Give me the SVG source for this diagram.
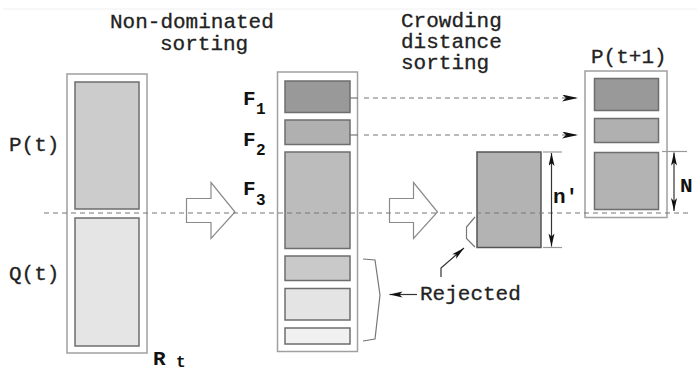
<svg xmlns="http://www.w3.org/2000/svg" width="697" height="372" viewBox="0 0 697 372">
  <defs>
    <marker id="dart" markerUnits="userSpaceOnUse" markerWidth="18" markerHeight="9" refX="16" refY="3.5" orient="auto-start-reverse">
      <path d="M0,0 L16,3.5 L0,7 L4,3.5 z" fill="#111"/>
    </marker>
    <marker id="dartS" markerUnits="userSpaceOnUse" markerWidth="14" markerHeight="8" refX="13" refY="3" orient="auto-start-reverse">
      <path d="M0,0 L13,3 L0,6 L3,3 z" fill="#111"/>
    </marker>
  </defs>
  <style>
    .txt { font-family: "Liberation Mono", "Courier New", monospace; font-size: 21px; fill: #222; stroke: #222; stroke-width: 0.3; }
    .bold { font-family: "Liberation Mono", "Courier New", monospace; font-weight: bold; font-size: 21px; fill: #111; }
    .sub { font-family: "Liberation Mono", "Courier New", monospace; font-weight: bold; font-size: 16px; fill: #111; }
    .outer { fill: #fff; stroke: #a0a0a0; stroke-width: 1.5; }
    .inner { stroke: #6e6e6e; stroke-width: 1.5; }
    .big { fill: #fff; stroke: #8a8a8a; stroke-width: 1.2; }
    .dash { fill: none; stroke: #777; stroke-width: 1.2; stroke-dasharray: 5 4; }
    .tick { fill: none; stroke: #999; stroke-width: 1.2; }
    .dim { fill: none; stroke: #333; stroke-width: 1.2; }
    .thin { fill: none; stroke: #777; stroke-width: 1.2; }
  </style>

  <rect width="697" height="372" fill="#fff"/>
  <line x1="3" y1="9" x2="697" y2="9" stroke="#f0f0f0" stroke-width="1"/>

  <!-- headings -->
  <g id="heading-nds">
    <text class="txt" x="110" y="28">Non-dominated</text>
    <text class="txt" x="160" y="50">sorting</text>
  </g>
  <g id="heading-cds">
    <text class="txt" x="401" y="27">Crowding</text>
    <text class="txt" x="401" y="48">distance</text>
    <text class="txt" x="401" y="69">sorting</text>
  </g>

  <!-- combined population R_t -->
  <g id="rt">
    <rect class="outer" x="67" y="74" width="80" height="279"/>
    <rect class="inner" x="75" y="82" width="64" height="127" fill="#cccccc"/>
    <rect class="inner" x="75" y="218" width="64" height="128" fill="#e5e5e5"/>
    <text class="txt" x="9" y="151">P(t)</text>
    <text class="txt" x="9" y="280">Q(t)</text>
    <text class="bold" x="153" y="365">R</text>
    <text class="sub" x="176" y="367" font-size="14">t</text>
  </g>

  <!-- sorted fronts -->
  <g id="fronts">
    <rect class="outer" x="277.5" y="72" width="80" height="279.5"/>
    <rect class="inner" x="285" y="81" width="65" height="31.5" fill="#999999"/>
    <rect class="inner" x="285" y="120" width="65" height="24.5" fill="#b0b0b0"/>
    <rect class="inner" x="285" y="152" width="65" height="96.5" fill="#bcbcbc"/>
    <rect class="inner" x="285" y="256" width="65" height="24.5" fill="#c9c9c9"/>
    <rect class="inner" x="285" y="288.5" width="65" height="31.5" fill="#e4e4e4"/>
    <rect class="inner" x="285" y="328" width="65" height="16" fill="#f1f1f1"/>
    <text class="bold" x="243" y="105">F</text>
    <text class="sub" x="256" y="114">1</text>
    <text class="bold" x="243" y="146">F</text>
    <text class="sub" x="256" y="155">2</text>
    <text class="bold" x="243" y="195">F</text>
    <text class="sub" x="256" y="205">3</text>
  </g>

  <!-- part of F3 chosen by crowding distance -->
  <g id="f3-part">
    <rect x="477" y="152" width="64" height="95.5" fill="#b3b3b3" stroke="#555" stroke-width="1.5"/>
    <text class="bold" x="553" y="203">n′</text>
  </g>

  <!-- next population -->
  <g id="pt1">
    <rect class="outer" x="585" y="71" width="82" height="146.5"/>
    <rect class="inner" x="594.5" y="78.5" width="64" height="32" fill="#999999"/>
    <rect class="inner" x="594.5" y="118.5" width="64" height="24" fill="#b0b0b0"/>
    <rect class="inner" x="594.5" y="152.5" width="64" height="57" fill="#b3b3b3"/>
    <text class="txt" x="591" y="63">P(t+1)</text>
    <text class="bold" x="680" y="192">N</text>
  </g>

  <g id="rejected-label">
    <text class="txt" x="420" y="300">Rejected</text>
  </g>

  <!-- connectors -->
  <g id="connectors">
    <!-- hollow process arrows -->
    <path class="big" d="M186.5,198.5 L211,198.5 L211,182.5 L235,212 L211,238.5 L211,222.5 L186.5,222.5 z"/>
    <path class="big" d="M389.5,198.5 L413.5,198.5 L413.5,182.5 L437.5,212 L413.5,238.5 L413.5,222.5 L389.5,222.5 z"/>

    <!-- population size cut -->
    <line class="dash" x1="44" y1="213" x2="688" y2="213"/>

    <!-- fronts copied into next population -->
    <line x1="350" y1="98" x2="358" y2="98" stroke="#777" stroke-width="1.2"/>
    <line class="dash" x1="364" y1="98" x2="578" y2="98" marker-end="url(#dart)"/>
    <line x1="350" y1="135" x2="358" y2="135" stroke="#777" stroke-width="1.2"/>
    <line class="dash" x1="364" y1="135" x2="578" y2="135" marker-end="url(#dart)"/>

    <!-- n' dimension -->
    <line class="tick" x1="543" y1="152" x2="562" y2="152"/>
    <line class="tick" x1="543" y1="247.5" x2="562" y2="247.5"/>
    <line class="dim" x1="551.5" y1="153" x2="551.5" y2="246.5" marker-start="url(#dartS)" marker-end="url(#dartS)"/>

    <!-- N dimension -->
    <line class="tick" x1="662" y1="151.5" x2="687" y2="151.5"/>
    <line class="dim" x1="674" y1="152.5" x2="674" y2="211" marker-start="url(#dartS)" marker-end="url(#dartS)"/>

    <!-- rejected remainder of F3 -->
    <polyline class="thin" points="475,217 466.5,227 466.5,238.5 475,247"/>
    <!-- brace over rejected fronts -->
    <polyline class="thin" points="363,259 375,260 380,295 375,339 363,341"/>

    <!-- pointers from label -->
    <polyline class="dim" points="441,277 441,268 464,248" marker-end="url(#dartS)"/>
    <line class="dim" x1="417" y1="294.5" x2="389.5" y2="294.5" marker-end="url(#dartS)"/>
  </g>
</svg>
